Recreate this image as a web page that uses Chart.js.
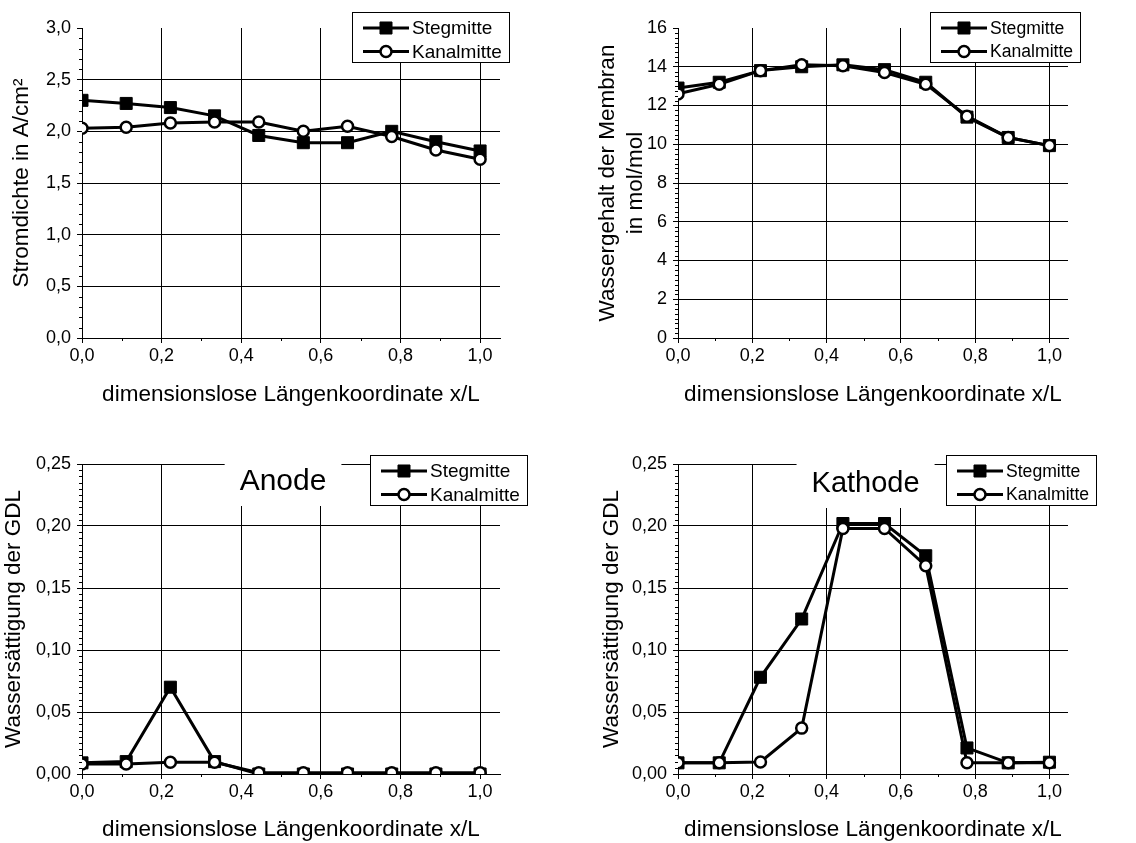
<!DOCTYPE html>
<html>
<head>
<meta charset="utf-8">
<script src="https://cdn.jsdelivr.net/npm/chart.js@4.4.1/dist/chart.umd.min.js"></script>
<style>
body { margin: 0; background: #fff; }
#wrap { position: relative; width: 1136px; height: 843px; }
canvas { position: absolute; }
</style>
</head>
<body>
<div id="wrap">
  <canvas id="strom" width="568" height="420" style="left:0;top:0"></canvas>
  <canvas id="wasser" width="568" height="420" style="left:568px;top:0"></canvas>
  <canvas id="anode" width="568" height="423" style="left:0;top:420px"></canvas>
  <canvas id="kathode" width="568" height="423" style="left:568px;top:420px"></canvas>
</div>
<script>
const FONT = '"Liberation Sans", Arial, sans-serif';

// Messpunkte entlang des Kanals (x/L)
const xPos = [0, 0.111, 0.222, 0.333, 0.444, 0.556, 0.667, 0.778, 0.889, 1.0];
const seriesNames = ['Stegmitte', 'Kanalmitte'];

const stromSteg  = [2.30, 2.27, 2.23, 2.15, 1.96, 1.89, 1.89, 2.00, 1.90, 1.81];
const stromKanal = [2.03, 2.04, 2.08, 2.09, 2.09, 2.00, 2.05, 1.95, 1.82, 1.73];

const wasserSteg  = [12.9, 13.2, 13.8, 14.0, 14.1, 13.85, 13.2, 11.4, 10.35, 9.93];
const wasserKanal = [12.6, 13.1, 13.8, 14.1, 14.05, 13.7, 13.1, 11.45, 10.35, 9.93];

const anodeSteg  = [0.009, 0.010, 0.070, 0.010, 0.0, 0.0, 0.0, 0.0, 0.0, 0.0];
const anodeKanal = [0.008, 0.008, 0.0095, 0.0095, 0.001, 0.001, 0.001, 0.001, 0.001, 0.001];

const kathodeSteg  = [0.009, 0.009, 0.078, 0.125, 0.202, 0.202, 0.176, 0.021, 0.009, 0.0095];
const kathodeKanal = [0.009, 0.009, 0.0097, 0.037, 0.198, 0.198, 0.168, 0.009, 0.009, 0.009];

// Achsenbeschriftungen
const xTicks = [0, 0.2, 0.4, 0.6, 0.8, 1.0];
const xTickLabels = ['0,0', '0,2', '0,4', '0,6', '0,8', '1,0'];
const stromTicks = [0, 0.5, 1.0, 1.5, 2.0, 2.5, 3.0];
const stromTickLabels = ['0,0', '0,5', '1,0', '1,5', '2,0', '2,5', '3,0'];
const wasserTicks = [0, 2, 4, 6, 8, 10, 12, 14, 16];
const wasserTickLabels = ['0', '2', '4', '6', '8', '10', '12', '14', '16'];
const gdlTicks = [0, 0.05, 0.10, 0.15, 0.20, 0.25];
const gdlTickLabels = ['0,00', '0,05', '0,10', '0,15', '0,20', '0,25'];

const xTitle = 'dimensionslose Längenkoordinate x/L';

// Zwischenstriche, Titelfeld und Legende mit Rahmen
const panelDecor = {
  id: 'panelDecor',
  beforeDatasetsDraw(chart, args, o) {
    if (!o.title) return;
    const ctx = chart.ctx;
    const cx = chart.scales.x.getPixelForValue(o.titleAt);
    ctx.save();
    ctx.font = o.titleSize + 'px ' + FONT;
    const w = ctx.measureText(o.title).width;
    ctx.fillStyle = '#fff';
    ctx.fillRect(cx - w / 2 - 15, chart.chartArea.top - 4, w + 30, o.titleBase + 16 - chart.chartArea.top + 4);
    ctx.fillStyle = '#000';
    ctx.textAlign = 'center';
    ctx.textBaseline = 'alphabetic';
    ctx.fillText(o.title, cx, o.titleBase);
    ctx.restore();
  },
  afterDatasetsDraw(chart, args, o) {
    const ctx = chart.ctx;
    const xs = chart.scales.x, ys = chart.scales.y;
    const area = chart.chartArea;
    ctx.save();
    ctx.strokeStyle = '#000';
    ctx.lineWidth = 1;
    // kleine Teilstriche
    ctx.beginPath();
    const yt = o.yMajor;
    for (let i = 0; i < yt.length - 1; i++) {
      const step = (yt[i + 1] - yt[i]) / (o.yMinor + 1);
      for (let k = 1; k <= o.yMinor; k++) {
        const py = Math.round(ys.getPixelForValue(yt[i] + k * step)) + 0.5;
        ctx.moveTo(area.left - 3, py);
        ctx.lineTo(area.left, py);
      }
    }
    for (let i = 0; i < xTicks.length - 1; i++) {
      const px = Math.round(xs.getPixelForValue((xTicks[i] + xTicks[i + 1]) / 2)) + 0.5;
      ctx.moveTo(px, area.bottom);
      ctx.lineTo(px, area.bottom + 3);
    }
    ctx.stroke();

    // Legende
    const L = o.legend;
    ctx.font = L.size + 'px ' + FONT;
    const ds = chart.data.datasets;
    const tw = Math.max(...ds.map(d => ctx.measureText(d.label).width));
    const w = Math.round(60 + tw + 7), h = 50;
    ctx.fillStyle = '#fff';
    ctx.fillRect(L.left, L.top, w, h);
    ctx.strokeRect(L.left + 0.5, L.top + 0.5, w, h);
    ds.forEach((d, i) => {
      const y = L.top + 16 + i * 23.5;
      ctx.strokeStyle = '#000';
      ctx.lineWidth = d.borderWidth;
      ctx.beginPath();
      ctx.moveTo(L.left + 11, y);
      ctx.lineTo(L.left + 57, y);
      ctx.stroke();
      ctx.fillStyle = d.pointBackgroundColor;
      ctx.strokeStyle = d.pointBorderColor;
      ctx.lineWidth = d.pointBorderWidth;
      Chart.helpers.drawPoint(ctx, {pointStyle: d.pointStyle, radius: d.pointRadius, borderWidth: d.pointBorderWidth, rotation: 0}, L.left + 34, y);
      ctx.fillStyle = '#000';
      ctx.textAlign = 'left';
      ctx.textBaseline = 'middle';
      ctx.fillText(d.label, L.left + 60, y + 1);
    });
    ctx.restore();
  }
};

function makeSeries(values) {
  return values.map((v, i) => ({x: xPos[i], y: v}));
}

function createPanel(id, p) {
  const H = document.getElementById(id).height;
  const datasets = [{
    label: seriesNames[0],
    data: makeSeries(p.steg),
    borderColor: '#000',
    borderWidth: 3,
    pointStyle: 'rect',
    pointRadius: 8.5,
    pointBackgroundColor: '#000',
    pointBorderColor: '#000',
    pointBorderWidth: 1,
    order: 2
  }, {
    label: seriesNames[1],
    data: makeSeries(p.kanal),
    borderColor: '#000',
    borderWidth: 3,
    pointStyle: 'circle',
    pointRadius: 5.5,
    pointBackgroundColor: '#fff',
    pointBorderColor: '#000',
    pointBorderWidth: 2.5,
    order: 1
  }];
  const yMax = p.yTicks[p.yTicks.length - 1];
  new Chart(document.getElementById(id), {
    type: 'line',
    data: {datasets: datasets},
    options: {
      responsive: false,
      animation: false,
      layout: {padding: {left: 0, top: p.top, right: 568 - p.right, bottom: 0}},
      plugins: {
        legend: {display: false},
        tooltip: {enabled: false},
        panelDecor: {
          yMajor: p.yTicks, yMinor: p.yMinor, legend: p.legend,
          title: p.title, titleAt: 0.505, titleSize: p.titleSize, titleBase: p.titleBase
        }
      },
      scales: {
        x: {
          type: 'linear', min: 0, max: 1.05,
          afterBuildTicks: s => { s.ticks = xTicks.map(v => ({value: v})); },
          afterFit: s => { s.height = H - p.bottom; },
          ticks: {
            autoSkip: false, maxRotation: 0, padding: 2, color: '#000',
            font: {family: FONT, size: p.tickSize},
            callback: (v, i) => xTickLabels[i]
          },
          grid: {color: '#000', tickColor: '#000', lineWidth: 1, tickLength: 5},
          border: {color: '#000', width: 1},
          title: {
            display: true, text: xTitle, color: '#000',
            font: {family: FONT, size: 22.5},
            padding: {top: 0, bottom: p.xTitlePad}
          }
        },
        y: {
          type: 'linear', min: 0, max: yMax,
          afterBuildTicks: s => { s.ticks = p.yTicks.map(v => ({value: v})); },
          afterFit: s => { s.width = p.left; },
          ticks: {
            autoSkip: false, padding: 6, color: '#000',
            font: {family: FONT, size: p.tickSize},
            callback: (v, i) => p.yLabels[i]
          },
          grid: {
            color: c => (p.hideTop && c.tick && c.tick.value === yMax) ? 'rgba(0,0,0,0)' : '#000',
            tickColor: '#000', lineWidth: 1, tickLength: 5
          },
          border: {color: '#000', width: 1},
          title: {
            display: true, text: p.yTitle, color: '#000',
            font: {family: FONT, size: 22.5, lineHeight: 1.25},
            padding: {top: p.yTitlePad, bottom: 0}
          }
        }
      }
    },
    plugins: [panelDecor]
  });
}

createPanel('strom', {
  steg: stromSteg, kanal: stromKanal,
  yTicks: stromTicks, yLabels: stromTickLabels, yMinor: 4, hideTop: true,
  yTitle: 'Stromdichte in A/cm²', yTitlePad: 8,
  top: 28, left: 82, right: 500, bottom: 338, xTitlePad: 12,
  tickSize: 18, legend: {left: 352, top: 12, size: 19}
});

createPanel('wasser', {
  steg: wasserSteg, kanal: wasserKanal,
  yTicks: wasserTicks, yLabels: wasserTickLabels, yMinor: 7, hideTop: true,
  yTitle: ['Wassergehalt der Membran', 'in mol/mol'], yTitlePad: 26,
  top: 28, left: 110, right: 500, bottom: 338, xTitlePad: 12,
  tickSize: 18, legend: {left: 362, top: 12, size: 17.6}
});

createPanel('anode', {
  steg: anodeSteg, kanal: anodeKanal,
  yTicks: gdlTicks, yLabels: gdlTickLabels, yMinor: 9, hideTop: false,
  yTitle: 'Wassersättigung der GDL', yTitlePad: 0,
  top: 44, left: 82, right: 500, bottom: 354, xTitlePad: 0,
  tickSize: 18, legend: {left: 370, top: 35, size: 19},
  title: 'Anode', titleSize: 30, titleBase: 70
});

createPanel('kathode', {
  steg: kathodeSteg, kanal: kathodeKanal,
  yTicks: gdlTicks, yLabels: gdlTickLabels, yMinor: 9, hideTop: false,
  yTitle: 'Wassersättigung der GDL', yTitlePad: 30,
  top: 44, left: 110, right: 500, bottom: 354, xTitlePad: 0,
  tickSize: 18, legend: {left: 378, top: 35, size: 17.6},
  title: 'Kathode', titleSize: 29, titleBase: 72
});
</script>
</body>
</html>
